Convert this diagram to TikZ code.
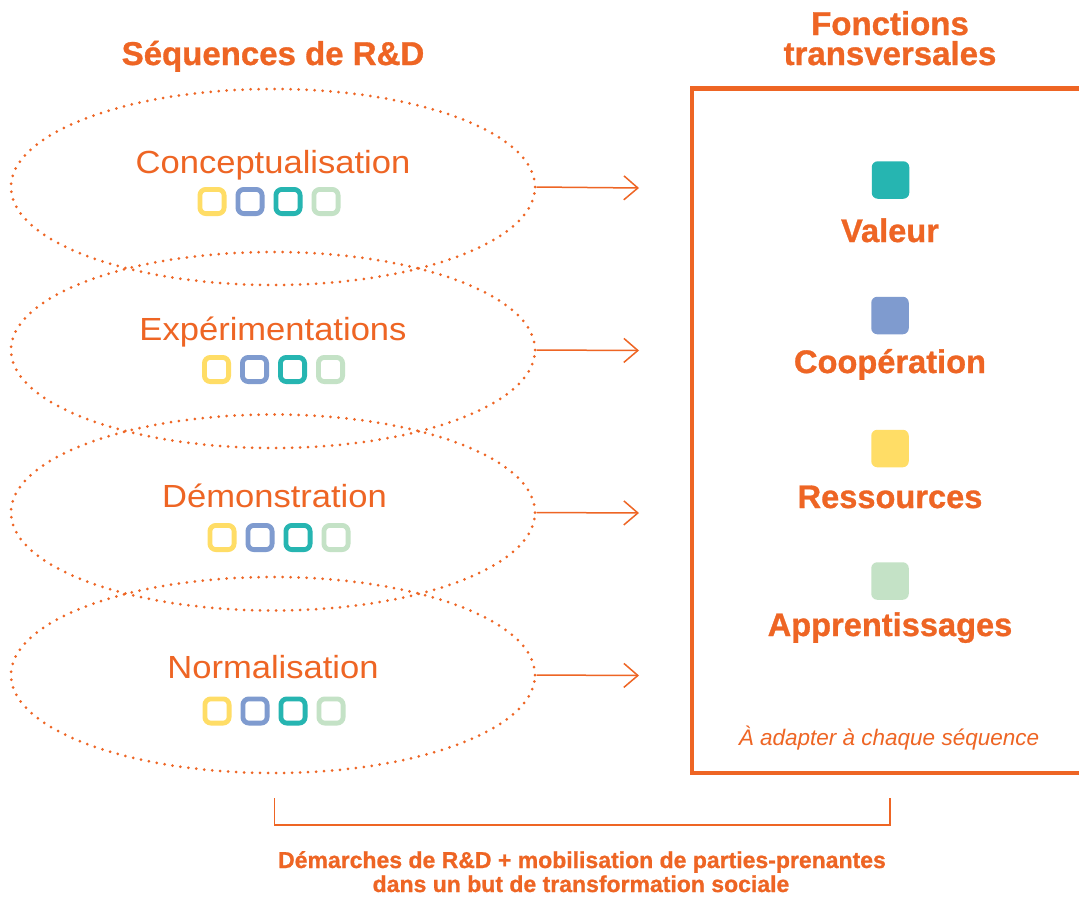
\documentclass[tikz,border=0pt]{standalone}
\usepackage{fontspec}
\setmainfont{Liberation Sans}
\newfontfamily\seqfont[FakeStretch=1.08]{Liberation Sans}
\newfontfamily\heavyfont[FakeBold=0.9]{Liberation Sans Bold}
\usetikzlibrary{shapes.geometric,arrows.meta}
\definecolor{orng}{HTML}{EE6524}
\definecolor{cyel}{HTML}{FFDD66}
\definecolor{cblu}{HTML}{7F9BCF}
\definecolor{ctea}{HTML}{26B5B1}
\definecolor{cgrn}{HTML}{C4E2C6}
\tikzset{
  seqell/.style={ellipse, draw=orng, line width=3pt, dash pattern=on 0pt off 8pt, line cap=round,
    minimum width=524pt, minimum height=196pt, inner sep=0pt},
  seqlabel/.style={text=orng, anchor=base, inner sep=0pt, font=\seqfont\fontsize{32}{32}\selectfont},
  titlelabel/.style={text=orng, anchor=base, inner sep=0pt, font=\heavyfont\fontsize{33}{33}\selectfont},
  funclabel/.style={text=orng, anchor=base, inner sep=0pt, font=\heavyfont\fontsize{32.6}{32.6}\selectfont},
  bottomlabel/.style={text=orng, anchor=base, inner sep=0pt, font=\heavyfont\fontsize{23}{23}\selectfont},
  notelabel/.style={text=orng, anchor=base, inner sep=0pt, font=\itshape\fontsize{22.5}{22.5}\selectfont},
  minisq/.style={draw=#1, line width=4.8pt, rounded corners=6pt, minimum size=24.2pt, inner sep=0pt},
  bigsq/.style={fill=#1, rounded corners=6pt, minimum size=37.5pt, inner sep=0pt},
  seqarrow/.style={draw=orng, line width=1.5pt, -{Straight Barb[length=14pt,width=24pt,line width=1.5pt]}},
  bracketline/.style={draw=orng, line width=1.5pt},
  framebox/.style={draw=orng, line width=4.5pt}
}
\begin{document}
\begin{tikzpicture}[x=1pt,y=-1pt]
\useasboundingbox (0,0) rectangle (1079,897);
\clip (0,0) rectangle (1079,897);
\fill[white] (0,0) rectangle (1079,897);

% titles
\node[titlelabel] (tleft) at (273,65) {Séquences de R\&D};
\node[titlelabel] (tright1) at (890,35) {Fonctions};
\node[titlelabel] (tright2) at (890,65) {transversales};

% ellipses
\node[seqell] (s1) at (273,187) {};
\node[seqell] (s2) at (273,350) {};
\node[seqell] (s3) at (273,512.5) {};
\node[seqell] (s4) at (273,675) {};

% labels
\node[seqlabel] (l1) at (273,173) {Conceptualisation};
\node[seqlabel] (l2) at (273,340) {Expérimentations};
\node[seqlabel] (l3) at (274.5,507) {Démonstration};
\node[seqlabel] (l4) at (273,678) {Normalisation};

% mini squares
\foreach \i/\cx/\cy in {1/212/201.5, 2/216.5/369.5, 3/222/537.5, 4/217/711}{
  \foreach \j/\col in {0/cyel,1/cblu,2/ctea,3/cgrn}{
    \node[minisq=\col] (q\i\j) at (\cx+38*\j,\cy) {};
  }
}

% arrows
\coordinate (a1) at (639,188);
\coordinate (a2) at (639,350.5);
\coordinate (a3) at (639,513);
\coordinate (a4) at (639,675.5);
\draw[seqarrow] (s1.east) -- (a1);
\draw[seqarrow] (s2.east) -- (a2);
\draw[seqarrow] (s3.east) -- (a3);
\draw[seqarrow] (s4.east) -- (a4);

% frame
\coordinate (f1) at (692,88.5);
\coordinate (f2) at (1110,773);
\draw[framebox] (f1) rectangle (f2);

% functions
\node[bigsq=ctea] (v1) at (890.5,180) {};
\node[funclabel] (v2) at (890,242) {Valeur};
\node[bigsq=cblu] (c1) at (890,315.5) {};
\node[funclabel] (c2) at (890,373) {Coopération};
\node[bigsq=cyel] (r1) at (890,448.5) {};
\node[funclabel] (r2) at (890,508) {Ressources};
\node[bigsq=cgrn] (p1) at (890,581) {};
\node[funclabel] (p2) at (890,636) {Apprentissages};
\node[notelabel] (note) at (889,745) {À adapter à chaque séquence};

% bracket
\coordinate (b1) at (274.5,798);
\coordinate (b2) at (274.5,825);
\coordinate (b3) at (890,825);
\coordinate (b4) at (890,798);
\draw[bracketline] (b1) -- (b2) -- (b3) -- (b4);

% bottom text
\node[bottomlabel] (bt1) at (582,868) {Démarches de R\&D + mobilisation de parties-prenantes};
\node[bottomlabel] (bt2) at (581,892) {dans un but de transformation sociale};
\end{tikzpicture}
\end{document}
